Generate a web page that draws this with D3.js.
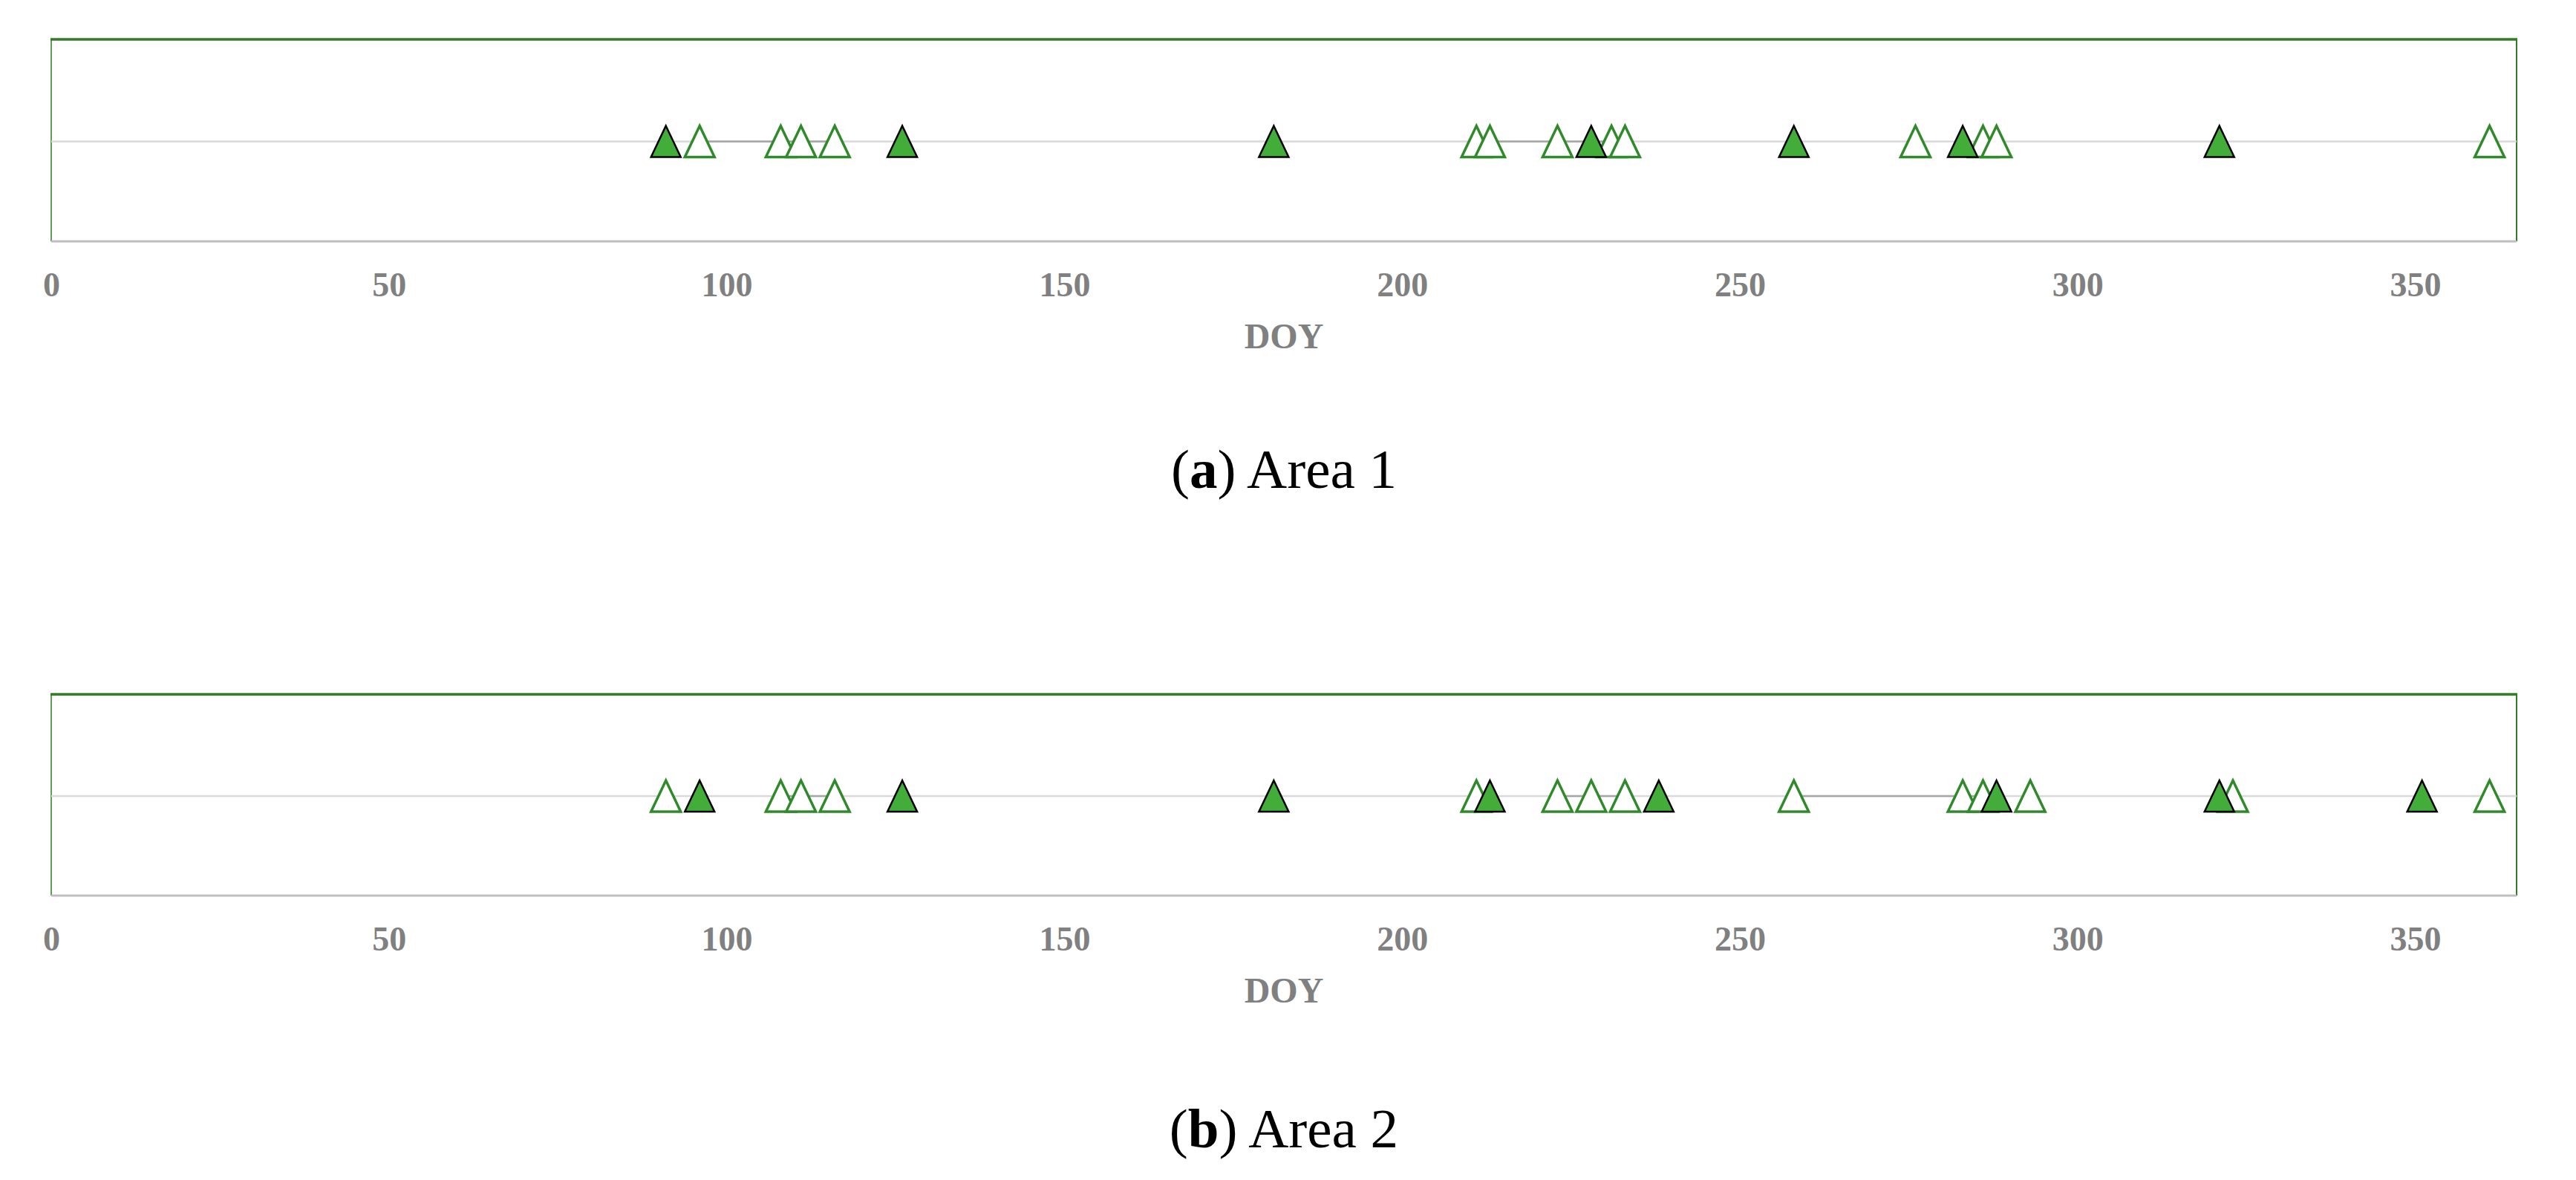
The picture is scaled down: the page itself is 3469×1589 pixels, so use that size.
<!DOCTYPE html>
<html><head><meta charset="utf-8">
<script src="https://cdn.jsdelivr.net/npm/d3@7"></script>
<style>html,body{margin:0;padding:0;background:#fff;} svg{display:block;}</style>
</head><body>
<svg id="chart" width="3469" height="1589"></svg>
<script>
// ---- data ----
const tickValues = [0, 50, 100, 150, 200, 250, 300, 350];
const axisTitle = "DOY";
// Area 1
const area1Filled = [91, 126, 181, 228, 258, 283, 321];
const area1Hollow = [96, 108, 111, 116, null, 211, 213, 223, 231, 233, null, 276, null, 286, 288, null, 361];
// Area 2
const area2Filled = [96, 126, 181, 213, 238, 288, 321, 351];
const area2Hollow = [91, null, 108, 111, 116, null, 211, null, 223, 228, 233, null, 258, 283, 286, null, 293, null, 323, null, 361];
const captionLetters = ["a", "b"];
const captionTexts = [" Area 1", " Area 2"];

const panels = [
  {filled: area1Filled, hollow: area1Hollow, top: 53, bottom: 325, caption: 657, letter: captionLetters[0], text: captionTexts[0]},
  {filled: area2Filled, hollow: area2Hollow, top: 935, bottom: 1206, caption: 1545, letter: captionLetters[1], text: captionTexts[1]}
];

const svg = d3.select("#chart");
svg.append("rect").attr("width", 3469).attr("height", 1589).attr("fill", "#fff");

const x = d3.scaleLinear().domain([0, 365]).range([69, 3389]);
const tri = "M0,-21L20,21L-20,21Z";

panels.forEach(p => {
  const y = d3.scaleLinear().domain([-1, 1]).range([p.bottom, p.top]);
  const g = svg.append("g");
  const y0 = y(0) + 1.5;

  // frame (green top/left/right)
  g.append("line").attr("x1", x(0) - 1).attr("x2", x(365) + 1).attr("y1", y(1)).attr("y2", y(1))
    .attr("stroke", "#2e7d22").attr("stroke-width", 3.5);
  g.append("line").attr("x1", x(0)).attr("x2", x(0)).attr("y1", y(1)).attr("y2", y(-1))
    .attr("stroke", "#2e7d22").attr("stroke-width", 1.5);
  g.append("line").attr("x1", x(365)).attr("x2", x(365)).attr("y1", y(1)).attr("y2", y(-1))
    .attr("stroke", "#2e7d22").attr("stroke-width", 2);

  // midline
  g.append("line").attr("x1", x(0)).attr("x2", x(365)).attr("y1", y0).attr("y2", y0)
    .attr("stroke", "#d9d9d9").attr("stroke-width", 2.5);

  // bottom axis
  const axis = d3.axisBottom(x).tickValues(tickValues).tickSize(0).tickFormat(d3.format("d"));
  const ag = g.append("g").attr("transform", `translate(0,${p.bottom})`).call(axis);
  ag.select(".domain").remove();
  g.append("line").attr("x1", x(0)).attr("x2", x(365)).attr("y1", p.bottom).attr("y2", p.bottom)
    .attr("stroke", "#bfbfbf").attr("stroke-width", 3);
  ag.selectAll("text")
    .attr("y", 73.5).attr("dy", null)
    .attr("fill", "#808080")
    .style("font-family", "'Liberation Serif', 'Times New Roman', serif")
    .style("font-weight", "bold")
    .style("font-size", "46px");

  g.append("text").attr("x", (x(0) + x(365)) / 2).attr("y", p.bottom + 144)
    .attr("text-anchor", "middle").attr("fill", "#808080")
    .style("font-family", "'Liberation Serif', 'Times New Roman', serif")
    .style("font-weight", "bold").style("font-size", "48px")
    .text(axisTitle);

  // connecting line for hollow series
  const line = d3.line().defined(d => d !== null).x(d => x(d)).y(() => y0);
  g.append("path").datum(p.hollow).attr("d", line)
    .attr("fill", "none").attr("stroke", "#a6a6a6").attr("stroke-width", 2.5);

  // hollow markers
  g.selectAll(".hollow").data(p.hollow.filter(d => d !== null)).enter().append("path")
    .attr("class", "hollow")
    .attr("transform", d => `translate(${x(d)},${y0})`)
    .attr("d", tri)
    .attr("fill", "#fff").attr("stroke", "#2f8a2a").attr("stroke-width", 3.5)
    .attr("stroke-linejoin", "miter");

  // filled markers
  g.selectAll(".filled").data(p.filled).enter().append("path")
    .attr("class", "filled")
    .attr("transform", d => `translate(${x(d)},${y0})`)
    .attr("d", tri)
    .attr("fill", "#43ad3a").attr("stroke", "#000").attr("stroke-width", 2.5);

  // caption
  const cap = svg.append("text").attr("x", (x(0) + x(365)) / 2).attr("y", p.caption)
    .attr("text-anchor", "middle").attr("fill", "#000")
    .style("font-family", "'Liberation Serif', 'Times New Roman', serif")
    .style("font-size", "75px");
  cap.append("tspan").text("(");
  cap.append("tspan").style("font-weight", "bold").text(p.letter);
  cap.append("tspan").text(")" + p.text);
});
</script>
</body></html>
